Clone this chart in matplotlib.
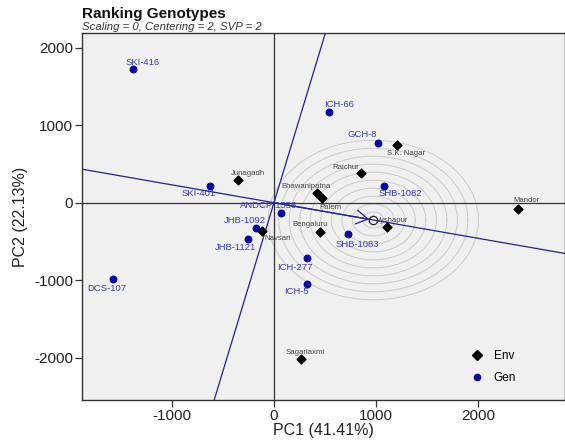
import matplotlib
matplotlib.use("Agg")
import matplotlib.pyplot as plt
import numpy as np
from matplotlib.lines import Line2D

plt.rcParams['font.family'] = ['Liberation Sans', 'DejaVu Sans']
plt.rcParams['axes.unicode_minus'] = False

# ---------------- data ----------------
gen_names = ["SKI-416", "ICH-66", "GCH-8", "SHB-1082", "SKI-401", "ANDCP-1556",
             "JHB-1092", "JHB-1121", "SHB-1083", "ICH-277", "ICH-5", "DCS-107"]
gen_pc1 = [-1382, 539, 1023, 1082, -627, 65, -176, -255, 722, 320, 320, -1575]
gen_pc2 = [1725, 1170, 775, 216, 216, -129, -331, -469, -408, -718, -1050, -990]

env_names = ["S.K. Nagar", "Raichur", "Junagadh", "Bhawanipatna", "Palem",
             "Navsari", "Bengaluru", "Vyshapur", "Mandor", "Sagarlaxmi"]
env_pc1 = [1203, 853, -350, 418, 467, -121, 451, 1111, 2389, 262]
env_pc2 = [750, 380, 289, 129, 57, -366, -374, -318, -81, -2023]

avg_env = [974, -224]          # average environment coordinate
n_rings = 10
ring_outer = 1030

title = "Ranking Genotypes"
subtitle = "Scaling = 0, Centering = 2, SVP = 2"
xlabel = "PC1 (41.41%)"
ylabel = "PC2 (22.13%)"
xticks = [-1000, 0, 1000, 2000]
yticks = [-2000, -1000, 0, 1000, 2000]

# label offsets (pixels, x right / y down)
gen_off = {"SKI-416": (10, -7), "ICH-66": (10, -8), "GCH-8": (-16, -8),
           "SHB-1082": (16, 8), "SKI-401": (-11, 8), "ANDCP-1556": (-12, -7),
           "JHB-1092": (-11, -8), "JHB-1121": (-12, 9), "SHB-1083": (10, 10),
           "ICH-277": (-12, 9), "ICH-5": (-10, 8), "DCS-107": (-7, 9)}
env_off = {"S.K. Nagar": (9, 9), "Raichur": (-15, -6), "Junagadh": (10, -7),
           "Bhawanipatna": (-11, -6), "Palem": (9, 9), "Navsari": (16, 7),
           "Bengaluru": (-10, -7), "Vyshapur": (5, -7), "Mandor": (9, -8),
           "Sagarlaxmi": (5, -7)}

# ---------------- figure ----------------
W, H = 565, 440
fig = plt.figure(figsize=(W / 100, H / 100), dpi=100)
fig.patch.set_facecolor("white")
L, R, T, B = 82, 565, 33, 400
ax = fig.add_axes([L / W, 1 - B / H, (R - L) / W, (B - T) / H])
ax.set_facecolor("#F0F0F0")
ax.set_xlim(-1882, 2853)
ax.set_ylim(-2549, 2192)

# rings
th = np.linspace(0, 2 * np.pi, 400)
for k in range(1, n_rings + 1):
    r = ring_outer * k / n_rings
    ax.plot(avg_env[0] + r * np.cos(th), avg_env[1] + r * np.sin(th),
            color="#CACACA", lw=0.7, zorder=1)

# axes lines
ax.axhline(0, color="#333333", lw=0.9, zorder=2)
ax.axvline(0, color="#333333", lw=0.9, zorder=2)

# AEA lines
slope = avg_env[1] / avg_env[0]
ax.axline((0, 0), slope=slope, color="#23238A", lw=0.9, zorder=3)
ax.axline((0, 0), slope=-1 / slope, color="#23238A", lw=0.9, zorder=3)
ax.annotate("", xy=(avg_env[0], avg_env[1]), xytext=(0, 0),
            arrowprops=dict(arrowstyle="->,head_length=0.85,head_width=0.5",
                            color="#23238A", lw=0.9, shrinkA=0, shrinkB=3),
            zorder=3)
ax.plot([avg_env[0]], [avg_env[1]], marker="o", ms=6, mfc="none",
        mec="#222222", mew=0.9, zorder=4)

# points
ax.scatter(env_pc1, env_pc2, marker="D", s=20, color="black", zorder=5)
ax.scatter(gen_pc1, gen_pc2, marker="o", s=22, color="#0A0A96", zorder=5)

px2pt = 0.72
for n, x, y in zip(gen_names, gen_pc1, gen_pc2):
    dx, dy = gen_off[n]
    ax.annotate(n, (x, y), xytext=(dx * px2pt, -dy * px2pt),
                textcoords="offset points", ha="center", va="center",
                fontsize=6.8, color="#3A3AB0", zorder=6)
for n, x, y in zip(env_names, env_pc1, env_pc2):
    dx, dy = env_off[n]
    ax.annotate(n, (x, y), xytext=(dx * px2pt, -dy * px2pt),
                textcoords="offset points", ha="center", va="center",
                fontsize=5.6, color="#444444", zorder=6)

# ticks / labels
ax.set_xticks(xticks)
ax.set_yticks(yticks)
ax.tick_params(axis="both", direction="out", length=5, width=0.9,
               color="#333333", labelsize=11, labelcolor="#222222", pad=1.5)
for s in ax.spines.values():
    s.set_color("#333333")
    s.set_linewidth(1.0)
ax.set_xlabel(xlabel, fontsize=11.5, color="#222222", labelpad=0)
ax.set_ylabel(ylabel, fontsize=11.5, color="#222222", labelpad=4)

fig.text(L / W, 1 - 14 / H, title, fontsize=11, fontweight="bold",
         ha="left", va="center", color="#111111")
fig.text(L / W, 1 - 27 / H, subtitle, fontsize=8.2, style="italic",
         ha="left", va="center", color="#333333")

handles = [Line2D([], [], marker="D", color="black", ls="none", ms=5),
           Line2D([], [], marker="o", color="#0A0A96", ls="none", ms=4.5)]
ax.legend(handles, ["Env", "Gen"], loc="center",
          bbox_to_anchor=((493 - L) / (R - L), (B - 367) / (B - T)),
          frameon=False, fontsize=8.5, handletextpad=0.8, labelspacing=0.8,
          handlelength=1.2)

fig.savefig("out.png", dpi=100)
